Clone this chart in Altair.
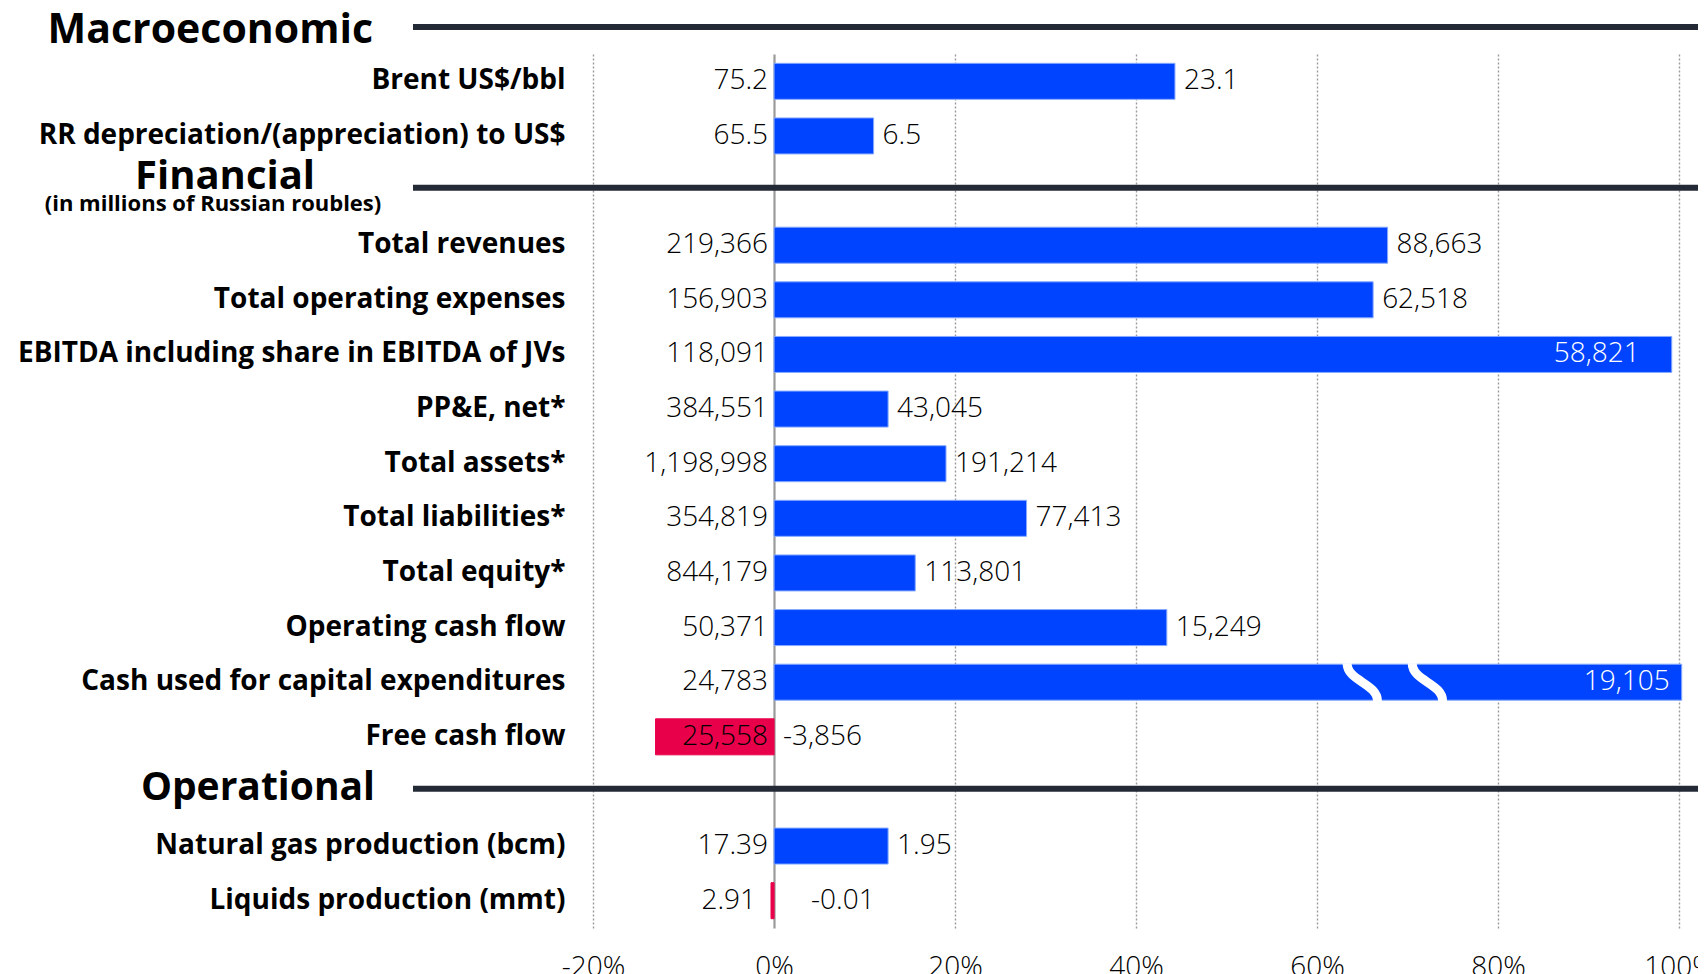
import altair as alt
import pandas as pd

# ---------------- data ----------------
categories = [
    "Brent US$/bbl",
    "RR depreciation/(appreciation) to US$",
    "Total revenues",
    "Total operating expenses",
    "EBITDA including share in EBITDA of JVs",
    "PP&E, net*",
    "Total assets*",
    "Total liabilities*",
    "Total equity*",
    "Operating cash flow",
    "Cash used for capital expenditures",
    "Free cash flow",
    "Natural gas production (bcm)",
    "Liquids production (mmt)",
]
current_values = ["75.2", "65.5", "219,366", "156,903", "118,091", "384,551", "1,198,998",
                  "354,819", "844,179", "50,371", "24,783", "25,558", "17.39", "2.91"]
change_values = ["23.1", "6.5", "88,663", "62,518", "58,821", "43,045", "191,214",
                 "77,413", "113,801", "15,249", "19,105", "-3,856", "1.95", "-0.01"]
# bar length as drawn (% change); capex bar is broken and drawn capped at the axis end
change_pct = [44.3, 11.0, 67.8, 66.2, 99.2, 12.6, 19.0, 27.9, 15.6, 43.4, 100.3, -13.1, 12.6, -0.34]

section_titles = ["Macroeconomic", "Financial", "Operational"]
financial_subtitle = "(in millions of Russian roubles)"
row_order = (categories[0:2] + ["Financial"] + categories[2:12] + ["Operational"] + categories[12:14])

break_row = ["Cash used for capital expenditures", "Cash used for capital expenditures"]
break_pct = [65.0, 72.2]

tick_values = [-20, 0, 20, 40, 60, 80, 100]

# ---------------- tables ----------------
df = pd.DataFrame({"key": categories, "cur": current_values, "chg": change_values, "pct": change_pct})
df_breaks = pd.DataFrame({"key": break_row, "pos": break_pct})
df_sections = pd.DataFrame({"key": section_titles[1:], "title": section_titles[1:]})
df_macro = pd.DataFrame({"title": [section_titles[0]]})
df_sub = pd.DataFrame({"key": ["Financial"], "title": [financial_subtitle]})

BLUE = "#0044ff"
RED = "#e9004b"
NAVY = "#232a35"
BOLD_FONT = "Open Sans"
LIGHT_FONT = "Open Sans"

W, H = 1123, 874

xscale = alt.Scale(domain=[-22, 102.1], nice=False, zero=False)
xaxis = alt.Axis(
    values=tick_values, labelExpr="datum.value + '%'", title=None,
    labelFont=LIGHT_FONT, labelFontWeight=300, labelFontSize=28, labelColor="#000",
    labelPadding=25, ticks=False, domain=False, grid=True,
    gridColor="#9a9a9a",
    gridDash={"condition": {"test": "datum.value === 0", "value": [1, 0]}, "value": [2, 2]},
    gridWidth={"condition": {"test": "datum.value === 0", "value": 2.2}, "value": 1.4},
    labelOverlap=False, labelFlush=False,
)
yscale = alt.Scale(domain=row_order, paddingInner=0, paddingOuter=0)
yaxis = alt.Axis(
    title=None, ticks=False, domain=False, grid=False,
    labelFont=BOLD_FONT, labelFontWeight="bold", labelFontSize=28, labelColor="#000",
    labelPadding=10, labelLimit=800,
    labelExpr="(datum.label == 'Financial' || datum.label == 'Operational') ? '' : datum.label",
)


def X(field, **kw):
    return alt.X(field, scale=xscale, axis=xaxis, **kw)


def Y(bp=0.5):
    return alt.Y("key:N", scale=yscale, axis=yaxis, sort=row_order, bandPosition=bp)


base = alt.Chart(df)

bars = base.mark_bar(size=36, strokeWidth=1).encode(
    x=X("pct:Q"),
    y=alt.Y("key:N", scale=yscale, axis=yaxis, sort=row_order),
    color=alt.condition("datum.pct < 0", alt.value(RED), alt.value(BLUE)),
    stroke=alt.condition("datum.pct < 0", alt.value(RED), alt.value("#86aaff")),
)

breaks = alt.Chart(df_breaks).mark_point(
    shape="M-0.8,-1 C-0.8,-0.05 0.8,0.05 0.8,1", filled=False, stroke="white",
    strokeWidth=9, size=1444, opacity=1,
).encode(x=X("pos:Q"), y=Y())

txt = dict(font=LIGHT_FONT, fontWeight=300, fontSize=28, color="#000", baseline="middle")

left_labels = base.transform_filter("abs(datum.pct) >= 1").transform_calculate(zero="0").mark_text(
    align="right", dx=-6, **txt).encode(x=X("zero:Q"), y=Y(), text="cur:N")
left_small = base.transform_filter("abs(datum.pct) < 1").transform_calculate(zero="0").mark_text(
    align="right", dx=-18, **txt).encode(x=X("zero:Q"), y=Y(), text="cur:N")

out_labels = base.transform_filter("datum.pct <= 90 && abs(datum.pct) >= 1").transform_calculate(
    lx="max(datum.pct, 0)"
).mark_text(align="left", dx=9, **txt).encode(x=X("lx:Q"), y=Y(), text="chg:N")
out_small = base.transform_filter("abs(datum.pct) < 1").transform_calculate(
    lx="max(datum.pct, 0)"
).mark_text(align="left", dx=37, **txt).encode(x=X("lx:Q"), y=Y(), text="chg:N")

txt_w = dict(txt)
txt_w["color"] = "white"
in_a = base.transform_filter("datum.pct > 90 && datum.pct < 100").mark_text(align="right", dx=-32, **txt_w).encode(
    x=X("pct:Q"), y=Y(), text="chg:N")
in_b = base.transform_filter("datum.pct >= 100").mark_text(align="right", dx=-12, **txt_w).encode(
    x=X("pct:Q"), y=Y(), text="chg:N")

sec_lines = alt.Chart(df_sections).mark_rule(color=NAVY, strokeWidth=6).encode(
    x=alt.value(-162), x2=alt.value(W + 20), y=Y(0.45))
macro_line = alt.Chart(df_macro).mark_rule(color=NAVY, strokeWidth=6).encode(
    x=alt.value(-162), x2=alt.value(W + 20), y=alt.value(-27))

hdr = dict(font=BOLD_FONT, fontWeight="bold", color="#000", baseline="middle")
macro_txt = alt.Chart(df_macro).mark_text(align="right", fontSize=41, **hdr).encode(
    x=alt.value(-202), y=alt.value(-23), text="title:N")
fin_txt = alt.Chart(df_sections).transform_filter("datum.key == 'Financial'").mark_text(
    align="center", dy=-14, fontSize=40, **hdr).encode(x=alt.value(-350), y=Y(), text="title:N")
op_txt = alt.Chart(df_sections).transform_filter("datum.key == 'Operational'").mark_text(
    align="right", dy=-3, fontSize=39, **hdr).encode(x=alt.value(-200), y=Y(), text="title:N")
sub_txt = alt.Chart(df_sub).mark_text(
    align="center", dy=13, font=BOLD_FONT, fontWeight="bold", fontSize=22, color="#000",
    baseline="middle").encode(x=alt.value(-362), y=Y(), text="title:N")

chart = alt.layer(
    sec_lines, macro_line, bars, breaks, left_labels, left_small, out_labels, out_small,
    in_a, in_b, macro_txt, fin_txt, op_txt, sub_txt,
).properties(
    width=W, height=H,
    background="white",
    autosize=alt.AutoSizeParams(type="none"),
    padding={"left": 567, "top": 46, "right": 0, "bottom": 48},
).configure_view(stroke="transparent", strokeWidth=0)

chart.save("out.html", embed_options={"renderer": "svg", "actions": False})
